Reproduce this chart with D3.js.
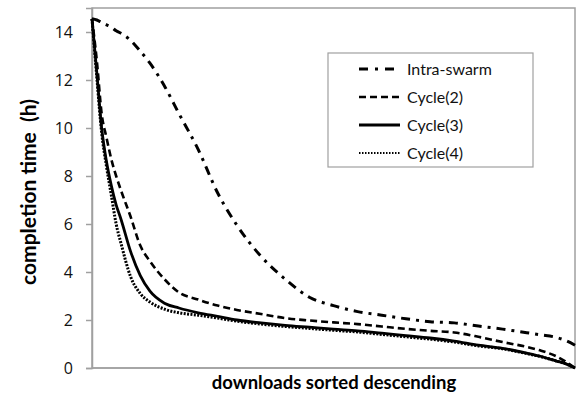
<!DOCTYPE html>
<html>
<head>
<meta charset="utf-8">
<script src="https://cdn.jsdelivr.net/npm/d3@7"></script>
<style>
  body { margin: 0; background: #fff; }
  svg { display: block; font-family: Lato, "Open Sans", sans-serif; }
  .line { fill: none; stroke: #000; }
</style>
</head>
<body>
<script>
// downloads rank (percent of sorted list)
const ranks = [0, 1, 2, 3, 4, 5, 6, 8, 10, 12, 15, 18, 22, 26, 30, 35, 40, 45, 50, 55, 60, 65, 70, 75, 80, 85, 90, 93, 96, 98, 100];

const intraSwarm = [14.55, 14.5, 14.4, 14.3, 14.2, 14.05, 13.95, 13.65, 13.2, 12.7, 11.75, 10.6, 9.1, 7.3, 5.95, 4.65, 3.7, 2.95, 2.6, 2.35, 2.2, 2.05, 1.93, 1.88, 1.75, 1.62, 1.47, 1.38, 1.28, 1.15, 0.95];
const cycle2 = [14.55, 12.8, 10.6, 9.6, 8.7, 8.0, 7.4, 6.3, 5.1, 4.45, 3.7, 3.15, 2.85, 2.6, 2.42, 2.25, 2.08, 1.98, 1.9, 1.83, 1.73, 1.63, 1.55, 1.48, 1.3, 1.08, 0.88, 0.72, 0.5, 0.28, 0];
const cycle3 = [14.55, 12.3, 10.0, 8.6, 7.6, 6.8, 6.2, 4.85, 3.85, 3.2, 2.7, 2.5, 2.3, 2.15, 2.0, 1.88, 1.78, 1.7, 1.62, 1.55, 1.45, 1.35, 1.25, 1.12, 0.95, 0.82, 0.62, 0.48, 0.3, 0.18, 0];
const cycle4 = [14.55, 12.1, 9.8, 8.4, 7.2, 6.0, 5.2, 3.8, 3.1, 2.75, 2.45, 2.3, 2.2, 2.08, 1.95, 1.83, 1.73, 1.65, 1.57, 1.5, 1.4, 1.3, 1.2, 1.08, 0.92, 0.8, 0.6, 0.47, 0.3, 0.18, 0];

const seriesNames = ["Intra-swarm", "Cycle(2)", "Cycle(3)", "Cycle(4)"];
const yTicks = [0, 2, 4, 6, 8, 10, 12, 14];

function init() {
  const width = 582, height = 397;
  const margin = { top: 8, right: 7, bottom: 29, left: 92 };

  const svg = d3.select("body").append("svg").attr("width", width).attr("height", height);

  const xScale = d3.scaleLinear().domain([0, 100]).range([margin.left, width - margin.right]);
  const yScale = d3.scaleLinear().domain([0, 15]).range([height - margin.bottom, margin.top]);

  // plot frame
  svg.append("rect")
    .attr("x", margin.left).attr("y", margin.top)
    .attr("width", width - margin.right - margin.left)
    .attr("height", height - margin.bottom - margin.top)
    .attr("fill", "none").attr("stroke", "#a0a0a0").attr("stroke-width", 1.5);

  // y-axis
  const yAxisGenerator = d3.axisLeft(yScale).tickValues(yTicks).tickSize(6).tickPadding(13);
  svg.append("g")
    .attr("transform", `translate(${margin.left},0)`)
    .call(yAxisGenerator)
    .call(g => g.select(".domain").attr("stroke", "#a0a0a0").attr("stroke-width", 1.5))
    .call(g => g.selectAll(".tick line").attr("stroke", "#a0a0a0").attr("stroke-width", 1.5))
    .call(g => g.selectAll(".tick text").attr("font-size", 16).attr("fill", "#111")
      .attr("font-family", "'Open Sans', Lato, sans-serif"));

  // x-axis line
  svg.append("line")
    .attr("x1", margin.left).attr("x2", width - margin.right)
    .attr("y1", yScale(0)).attr("y2", yScale(0))
    .attr("stroke", "#a0a0a0").attr("stroke-width", 1.5);

  // axis titles
  svg.append("text")
    .attr("x", 334)
    .attr("y", 389)
    .attr("text-anchor", "middle")
    .attr("font-size", 18.5).attr("font-weight", "bold")
    .text("downloads sorted descending");

  svg.append("text")
    .attr("transform", `translate(36,192) rotate(-90)`)
    .attr("text-anchor", "middle")
    .attr("font-size", 21).attr("font-weight", "bold")
    .style("white-space", "pre")
    .text("completion time  (h)");

  // series
  const styles = [
    { dash: "9,6,3,6", width: 3 },
    { dash: "7,4", width: 2.6 },
    { dash: null, width: 2.8 },
    { dash: "2,1.4", width: 3 }
  ];
  const series = [intraSwarm, cycle2, cycle3, cycle4];

  const lineGenerator = d3.line()
    .x((d, i) => xScale(ranks[i]))
    .y(d => yScale(d))
    .curve(d3.curveMonotoneX);

  svg.append("g")
    .selectAll("path")
    .data(series)
    .join("path")
    .attr("class", "line")
    .attr("d", d => lineGenerator(d))
    .attr("stroke-width", (d, i) => styles[i].width)
    .attr("stroke-dasharray", (d, i) => styles[i].dash);

  // legend
  const legend = svg.append("g");
  legend.append("rect")
    .attr("x", 328).attr("y", 53).attr("width", 205).attr("height", 114)
    .attr("fill", "#fff").attr("stroke", "#a0a0a0").attr("stroke-width", 1.2);

  const rows = legend.selectAll("g.row")
    .data(seriesNames)
    .join("g")
    .attr("class", "row")
    .attr("transform", (d, i) => `translate(0,${69 + i * 28})`);

  rows.append("line")
    .attr("x1", 359).attr("x2", 400)
    .attr("stroke", "#000")
    .attr("stroke-width", (d, i) => i === 3 ? 1.8 : styles[i].width)
    .attr("stroke-dasharray", (d, i) => i === 0 ? "9,7,3,7" : (i === 3 ? "1.5,1.5" : styles[i].dash));

  rows.append("text")
    .attr("x", 407).attr("y", 5.5)
    .attr("font-size", 16).attr("fill", "#111")
    .text(d => d);
}

document.addEventListener("DOMContentLoaded", init);
</script>
</body>
</html>
